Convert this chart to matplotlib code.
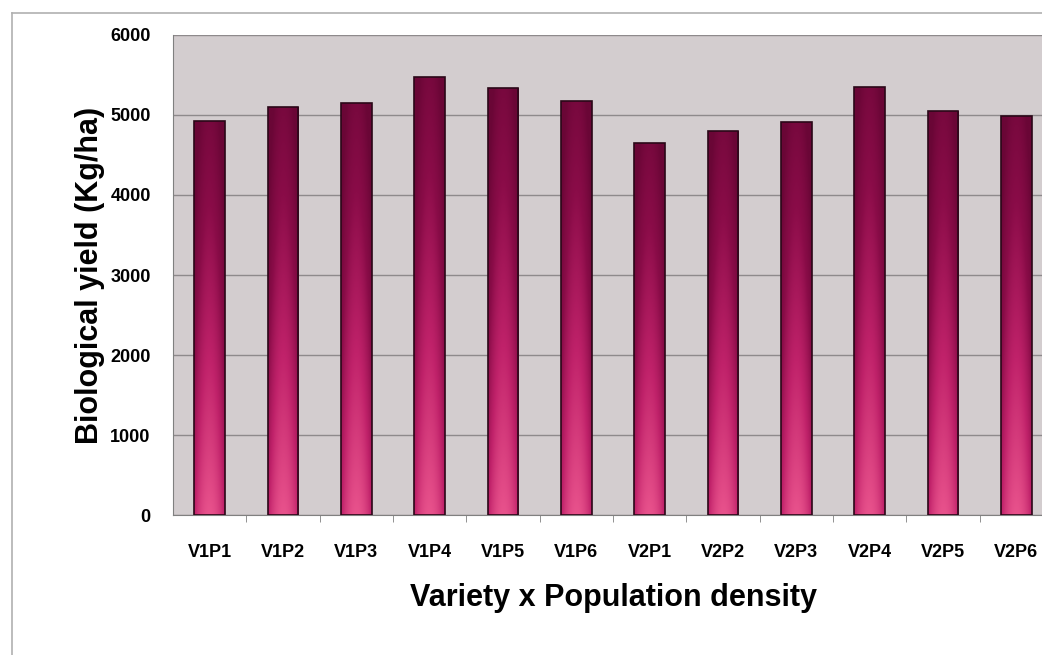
import matplotlib.pyplot as plt
import numpy as np
from matplotlib.colors import LinearSegmentedColormap
from matplotlib.lines import Line2D

plt.rcParams['font.family'] = ['Liberation Sans', 'DejaVu Sans']

categories = ['V1P1', 'V1P2', 'V1P3', 'V1P4', 'V1P5', 'V1P6',
              'V2P1', 'V2P2', 'V2P3', 'V2P4', 'V2P5', 'V2P6']
yield_kg = [4930, 5100, 5150, 5480, 5340, 5180,
            4650, 4800, 4910, 5350, 5050, 4990]

fig = plt.figure(figsize=(10.42, 6.55), dpi=100)
# axes run a bit past the right edge, as in the scanned original
ax = fig.add_axes([0.166, 0.2137, 0.8446, 0.7329])
ax.set_facecolor('#d3cdcf')

x = np.arange(len(categories))
bars = ax.bar(x, yield_kg, width=0.42, color='none', edgecolor='#2a0818', linewidth=1.2, zorder=3)

# gradient fill: dark maroon at the top, pink at the bottom, darker edges
cmap = LinearSegmentedColormap.from_list('bar', ['#e8528c', '#c0226a', '#8a0c48', '#6a0636'])
ny, nx = 200, 40
vert = np.linspace(0, 1, ny)[:, None]
horiz = np.abs(np.linspace(-1, 1, nx))[None, :]
grad = np.clip(vert * 0.85 + horiz ** 2 * 0.35, 0, 1)
for b in bars:
    x0, w, h = b.get_x(), b.get_width(), b.get_height()
    im = ax.imshow(grad, cmap=cmap, vmin=0, vmax=1, origin='lower', aspect='auto',
                   extent=[x0, x0 + w, 0, h], zorder=2, interpolation='bilinear')
    im.set_clip_path(b)

ax.set_xlim(-0.5, len(categories) - 0.5)
ax.set_ylim(0, 6000)
ax.set_yticks(range(0, 6001, 1000))
ax.yaxis.grid(True, color='#8e8a8c', linewidth=1.0, zorder=1)
ax.set_axisbelow(True)

ax.set_xticks(x)
ax.set_xticklabels(categories, fontsize=13, fontweight='bold')
ax.tick_params(axis='x', length=0, pad=21)
ax.set_xticks(x[:-1] + 0.5, minor=True)
ax.tick_params(axis='x', which='minor', length=5, color='#808080', direction='out')
ax.tick_params(axis='y', length=0, pad=16, labelsize=13)
for lab in ax.get_yticklabels():
    lab.set_fontweight('bold')

for side in ['top', 'right']:
    ax.spines[side].set_visible(False)
ax.spines['left'].set_color('#808080')
ax.spines['bottom'].set_color('#808080')

ax.set_ylabel('Biological yield (Kg/ha)', fontsize=22, fontweight='bold', labelpad=4)
ax.set_xlabel('Variety x Population density', fontsize=22, fontweight='bold', labelpad=16)

# faint outer chart border
fig.add_artist(Line2D([12 / 1042, 1], [1 - 13 / 655, 1 - 13 / 655], color='#b0b0b0', lw=1.2))
fig.add_artist(Line2D([12 / 1042, 12 / 1042], [0, 1 - 13 / 655], color='#b0b0b0', lw=1.2))

fig.savefig('out.png', dpi=100)
